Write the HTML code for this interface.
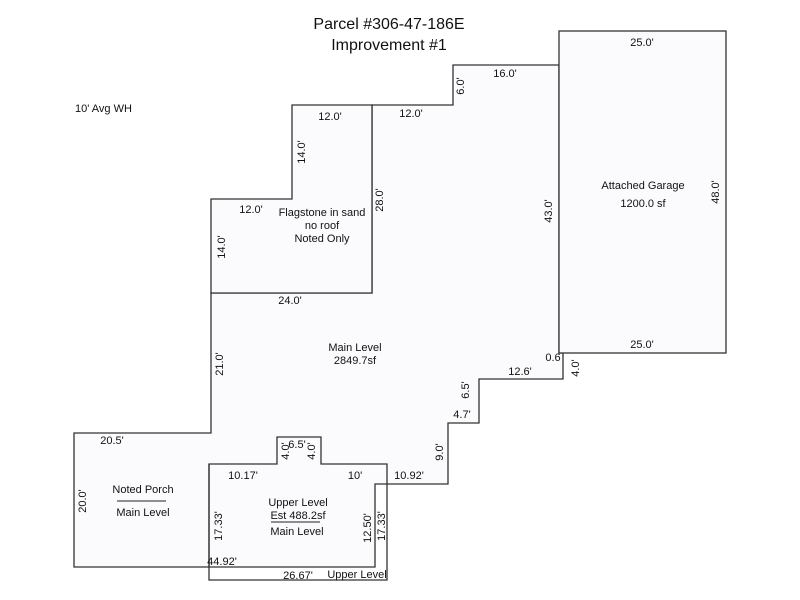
<!DOCTYPE html>
<html><head><style>
body{margin:0;background:#fff;}
svg{display:block;font-family:"Liberation Sans",Arial,sans-serif;}
text{font-size:11px;fill:#111;}
</style></head><body>
<svg width="800" height="600" viewBox="0 0 800 600">
<g fill="#fbfbfd" stroke="#333" stroke-width="1.3">
<polygon points="211,293 372,293 372,105 453,105 453,65 559,65 559,353 563,353 563,379 479,379 479,423 448,423 448,484 375,484 375,567 74,567 74,433 211,433"/>
<polygon points="211,199 292,199 292,105 372,105 372,293 211,293"/>
<rect x="559" y="31" width="167" height="322"/>
<polygon points="209,464 277,464 277,437 321,437 321,464 387,464 387,580 209,580" fill="none"/>
<line x1="209" y1="464" x2="209" y2="567"/>
</g>
<line x1="117" y1="501" x2="166" y2="501" stroke="#222"/>
<line x1="271" y1="522" x2="320" y2="522" stroke="#222"/>
<text x="389" y="29" text-anchor="middle" style="font-size:16px">Parcel #306-47-186E</text>
<text x="389" y="50" text-anchor="middle" style="font-size:16px">Improvement #1</text>
<text x="75" y="112">10' Avg WH</text>
<text x="330" y="120" text-anchor="middle">12.0'</text>
<text x="411" y="117" text-anchor="middle">12.0'</text>
<text x="505" y="77" text-anchor="middle">16.0'</text>
<text x="642" y="46" text-anchor="middle">25.0'</text>
<text x="642" y="348" text-anchor="middle">25.0'</text>
<text x="251" y="213" text-anchor="middle">12.0'</text>
<text x="290" y="304" text-anchor="middle">24.0'</text>
<text x="520" y="375" text-anchor="middle">12.6'</text>
<text x="553" y="361" text-anchor="middle">0.6</text>
<text x="462" y="418" text-anchor="middle">4.7'</text>
<text x="409" y="479" text-anchor="middle">10.92'</text>
<text x="112" y="444" text-anchor="middle">20.5'</text>
<text x="243" y="479" text-anchor="middle">10.17'</text>
<text x="355" y="479" text-anchor="middle">10'</text>
<text x="297" y="448" text-anchor="middle">6.5'</text>
<text x="222" y="565" text-anchor="middle">44.92'</text>
<text x="298" y="579" text-anchor="middle">26.67'</text>
<text x="357" y="578" text-anchor="middle">Upper Level</text>
<text x="322" y="216" text-anchor="middle">Flagstone in sand</text>
<text x="322" y="229" text-anchor="middle">no roof</text>
<text x="322" y="242" text-anchor="middle">Noted Only</text>
<text x="355" y="351" text-anchor="middle">Main Level</text>
<text x="355" y="364" text-anchor="middle">2849.7sf</text>
<text x="643" y="189" text-anchor="middle">Attached Garage</text>
<text x="643" y="207" text-anchor="middle">1200.0 sf</text>
<text x="143" y="493" text-anchor="middle">Noted Porch</text>
<text x="143" y="516" text-anchor="middle">Main Level</text>
<text x="298" y="506" text-anchor="middle">Upper Level</text>
<text x="298" y="519" text-anchor="middle">Est 488.2sf</text>
<text x="297" y="535" text-anchor="middle">Main Level</text>
<g text-anchor="middle">
<text transform="translate(464,86) rotate(-90)">6.0'</text>
<text transform="translate(305,152) rotate(-90)">14.0'</text>
<text transform="translate(383,200) rotate(-90)">28.0'</text>
<text transform="translate(225,247) rotate(-90)">14.0'</text>
<text transform="translate(552,211) rotate(-90)">43.0'</text>
<text transform="translate(719,192) rotate(-90)">48.0'</text>
<text transform="translate(223,364) rotate(-90)">21.0'</text>
<text transform="translate(579,368) rotate(-90)">4.0'</text>
<text transform="translate(469,390) rotate(-90)">6.5'</text>
<text transform="translate(443,452) rotate(-90)">9.0'</text>
<text transform="translate(86,501) rotate(-90)">20.0'</text>
<text transform="translate(289,451) rotate(-90)">4.0'</text>
<text transform="translate(315,451) rotate(-90)">4.0'</text>
<text transform="translate(222,526) rotate(-90)">17.33'</text>
<text transform="translate(371,528) rotate(-90)">12.50'</text>
<text transform="translate(385,526) rotate(-90)">17.33'</text>
</g>
</svg>
</body></html>
